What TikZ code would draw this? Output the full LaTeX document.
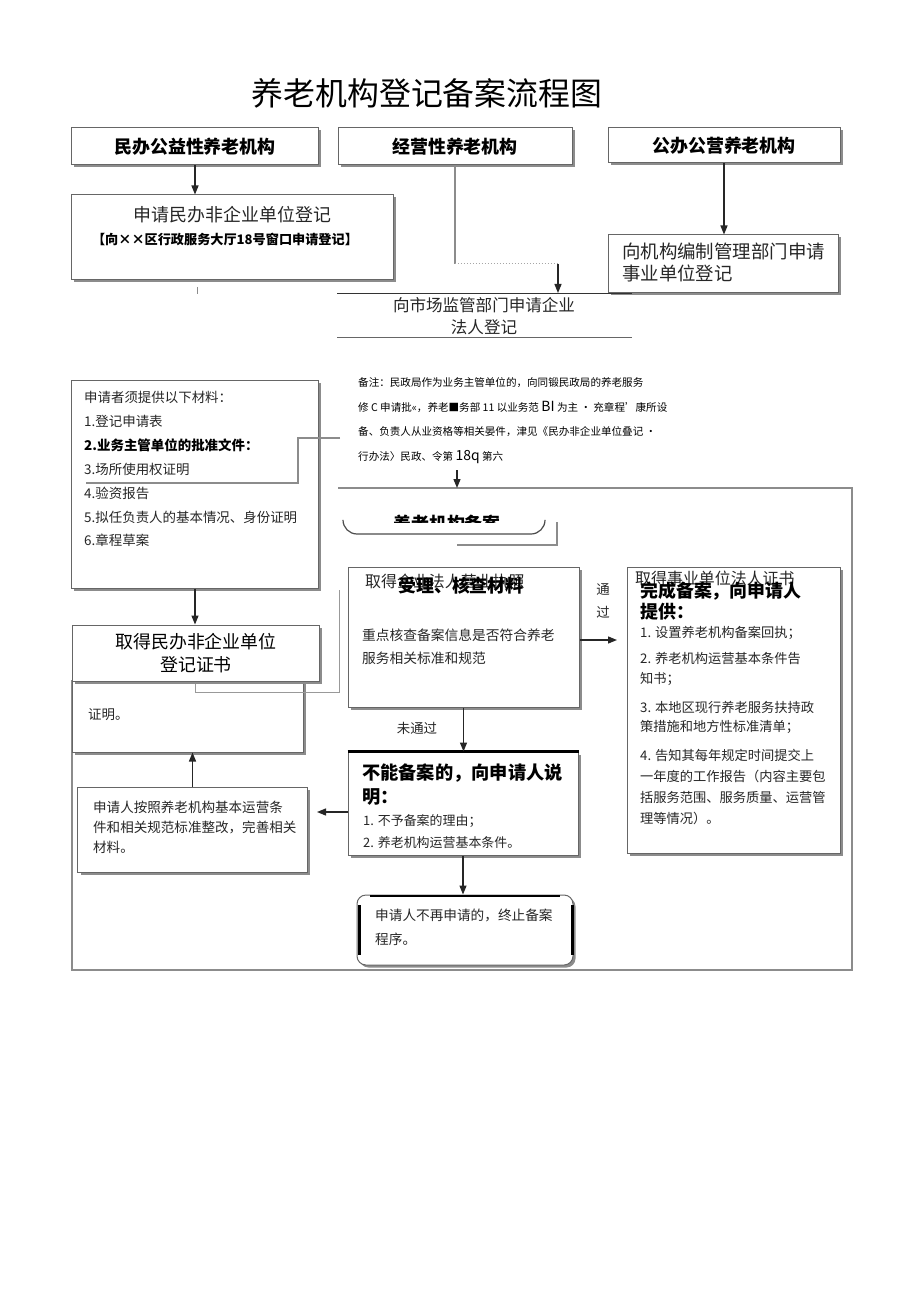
\documentclass[tikz,border=0pt]{standalone}
\usepackage{fontspec}
\setmainfont{Noto Sans CJK SC}
\usetikzlibrary{arrows.meta,shadows,calc}
\begin{document}
\begin{tikzpicture}[x=1bp,y=-1bp,
  box/.style={draw=black!60, line width=1bp, fill=white, inner sep=0pt,
    drop shadow={shadow xshift=2.5bp, shadow yshift=-2.5bp, fill=black!45, opacity=1}},
  arr/.style={-{Triangle[length=9bp,width=7bp]}, line width=1.3bp, draw=black!85},
  gline/.style={draw=black!45, line width=1.2bp},
  txt/.style={inner sep=0pt, text=black!85},
  f18/.style={font=\fontsize{18}{23}\selectfont},
  b18/.style={font=\bfseries\fontsize{18}{22}\selectfont},
  f13/.style={font=\fontsize{13.5}{24}\selectfont},
]
\useasboundingbox[fill=white] (0,0) rectangle (920,1301);

% title
\node[txt, text=black, font=\fontsize{32}{36}\selectfont] (title) at (427,93) {养老机构登记备案流程图};

% top row
\node[box, b18, text=black, minimum width=246bp, minimum height=37bp] (A) at (195,146.5) {民办公益性养老机构};
\node[box, b18, text=black, minimum width=234bp, minimum height=37bp] (B) at (455,146.5) {经营性养老机构};
\node[box, b18, text=black, minimum width=232bp, minimum height=35bp] (C) at (724,145.5) {公办公营养老机构};

% D
\node[box, minimum width=321bp, minimum height=84bp] (D) at (232.5,237) {};
\node[txt, f18] (D1) at (232.5,215) {申请民办非企业单位登记};
\node[txt, text=black, font=\bfseries\fontsize{13.2}{14}\selectfont] (D2) at (225,239) {【向××区行政服务大厅18号窗口申请登记】};
\draw[gline, line width=0.8bp] (197,287) -- (197,294);

% E
\node[box, minimum width=230bp, minimum height=57bp] (E) at (723,263.5) {};
\node[txt, font=\fontsize{18.5}{21.5}\selectfont, align=left, anchor=north west] (E1) at (622,243) {向机构编制管理部门申请\\事业单位登记};

% arrows of top row
\draw[arr] (A.south) -- (A.south |- D.north);
\draw[arr] (C.south) -- (C.south |- E.north);
\coordinate (mturn) at (558,264);
\coordinate (Ml) at (337,293);
\coordinate (Mr) at (632,293);
\coordinate (Ml2) at (337,337);
\coordinate (Mr2) at (632,337);
\draw[gline] (B.south) -- (B.south |- mturn);
\draw[draw=black!35, line width=1bp, dotted] (B.south |- mturn) -- (mturn);
\draw[arr] (mturn) -- (mturn |- Ml);
\draw[line width=0.8bp, black!80] (Ml) -- (Mr);
\draw[line width=0.8bp, black!60] (Ml2) -- (Mr2);
\node[txt, align=center, font=\fontsize{16.6}{22}\selectfont] (M) at (484,316) {向市场监管部门申请企业\\法人登记};

% F materials
\node[box, minimum width=246bp, minimum height=208bp] (F) at (195,484) {};
\node[txt, f13, align=left, anchor=north west] (F1) at (84,391) {申请者须提供以下材料：\\1.登记申请表\\\textbf{\color{black}2.业务主管单位的批准文件：}\\3.场所使用权证明\\4.验资报告\\5.拟任负责人的基本情况、身份证明\\6.章程草案};
\draw[gline, line width=2bp] (340,438) -- (298,438) -- (298,483) -- (86,483);

% note
\node[txt, text=black, align=left, anchor=north west, font=\fontsize{10.6}{25}\selectfont] (N) at (358,377) {备注：民政局作为业务主管单位的，向同锻民政局的养老服务\\修 C 申请批«，养老■务部 11 以业务范 {\fontsize{14}{14}\selectfont BI} 为主 · 充章程’康所设\\备、负责人从业资格等相关晏件，津见《民办非企业单位叠记 ·\\行办法〉民政、令第 {\fontsize{14}{14}\selectfont 18q} 第六};

% big frame
\coordinate (ntail) at (457,470);
\coordinate (btop) at (457,488);
\draw[gline, line width=1.5bp] (338,488) -- (852,488) -- (852,970) -- (72,970) -- (72,680);
\draw[arr] (ntail) -- (btop);

% partial rounded shape
\begin{scope}
\clip (330,500) rectangle (560,522);
\node[txt, text=black, font=\bfseries\fontsize{18}{22}\selectfont] (R1) at (447,524) {养老机构备案};
\end{scope}
\draw[line width=1.2bp, black!70, rounded corners=14bp] (343,520) -- (343,534) -- (545,534) -- (545,520);
\draw[gline, line width=1.5bp] (457,545) -- (557,545) -- (557,522);

% hidden box and I
\node[box, minimum width=230bp, minimum height=82bp] (HB) at (188,711) {};
\node[txt, f13, anchor=west] (HB1) at (88,715) {证明。};
\draw[draw=black!40, line width=1bp] (339,590) -- (339,692) -- (195,692) -- (195,681);
\node[box, f18, align=center, minimum width=246bp, minimum height=56bp] (I) at (196,653) {取得民办非企业单位\\登记证书};
\draw[arr] (F.south) -- (F.south |- I.north);

% G
\node[box, minimum width=231bp, minimum height=140bp] (G) at (463.5,637) {};
\node[txt, font=\fontsize{16}{18}\selectfont, anchor=west] (G0) at (365,581) {取得企业法人营业执照};
\node[txt, text=black, b18, anchor=west] (G1) at (398,586) {受理、核查材料};
\node[txt, font=\fontsize{13.8}{23}\selectfont, align=left, anchor=north west] (G2) at (362,629) {重点核查备案信息是否符合养老\\服务相关标准和规范};
\node[txt, font=\fontsize{13.5}{23}\selectfont, align=center] (pass) at (603,601) {通\\过};

% H
\node[box, minimum width=213bp, minimum height=286bp] (H) at (733.5,710) {};
\node[txt, font=\fontsize{16}{18}\selectfont, anchor=west] (H0) at (635,578) {取得事业单位法人证书};
\node[txt, text=black, align=left, anchor=north west, font=\bfseries\fontsize{18}{20.5}\selectfont] (H1) at (640,582) {完成备案，向申请人\\提供：};
\node[txt, align=left, anchor=north west, font=\fontsize{13.3}{20.5}\selectfont] (H2) at (640,626) {1. 设置养老机构备案回执；};
\node[txt, align=left, anchor=north west, font=\fontsize{13.3}{20}\selectfont] (H3) at (640,652) {2. 养老机构运营基本条件告\\知书；};
\node[txt, align=left, anchor=north west, font=\fontsize{13.3}{19.5}\selectfont] (H4) at (640,701) {3. 本地区现行养老服务扶持政\\策措施和地方性标准清单；};
\node[txt, align=left, anchor=north west, font=\fontsize{13.3}{21}\selectfont] (H5) at (640,749) {4. 告知其每年规定时间提交上\\一年度的工作报告（内容主要包\\括服务范围、服务质量、运营管\\理等情况）。};
\coordinate (passend) at (617,640);
\draw[arr] (G.east |- passend) -- (passend);

% K
\node[box, minimum width=230bp, minimum height=103bp] (K) at (463,803.5) {};
\draw[line width=2.5bp, black] (K.north west) -- (K.north east);
\node[txt, text=black, align=left, anchor=north west, font=\bfseries\fontsize{18.3}{24}\selectfont] (K1) at (362,764) {不能备案的，向申请人说\\明：};
\node[txt, align=left, anchor=north west, font=\fontsize{13}{22}\selectfont] (K2) at (363,814) {1. 不予备案的理由；\\2. 养老机构运营基本条件。};
\node[txt, font=\fontsize{13.5}{16}\selectfont] (fail) at (417,728) {未通过};
\draw[arr] (G.south) -- (G.south |- K.north);

% J
\node[box, minimum width=229bp, minimum height=85bp] (J) at (192.5,829.5) {};
\node[txt, align=left, anchor=north west, font=\fontsize{13.6}{20}\selectfont] (J1) at (93,801) {申请人按照养老机构基本运营条\\件和相关规范标准整改，完善相关\\材料。};
\coordinate (kjend) at (317,812);
\draw[arr] (K.west |- kjend) -- (kjend);
\draw[arr] (J.north) -- (J.north |- HB.south);

% L
\node[box, rounded corners=9bp, minimum width=216bp, minimum height=70bp] (L) at (465,930) {};
\draw[line width=2.5bp, black] (370,896) -- (560,896);
\draw[line width=3bp, black] (359,905) -- (359,955);
\draw[line width=3bp, black] (572,905) -- (572,955);
\node[txt, align=left, anchor=north west, font=\fontsize{13.7}{24}\selectfont] (L1) at (375,909) {申请人不再申请的，终止备案\\程序。};
\draw[arr] (K.south) -- (K.south |- L.north);
\end{tikzpicture}
\end{document}
